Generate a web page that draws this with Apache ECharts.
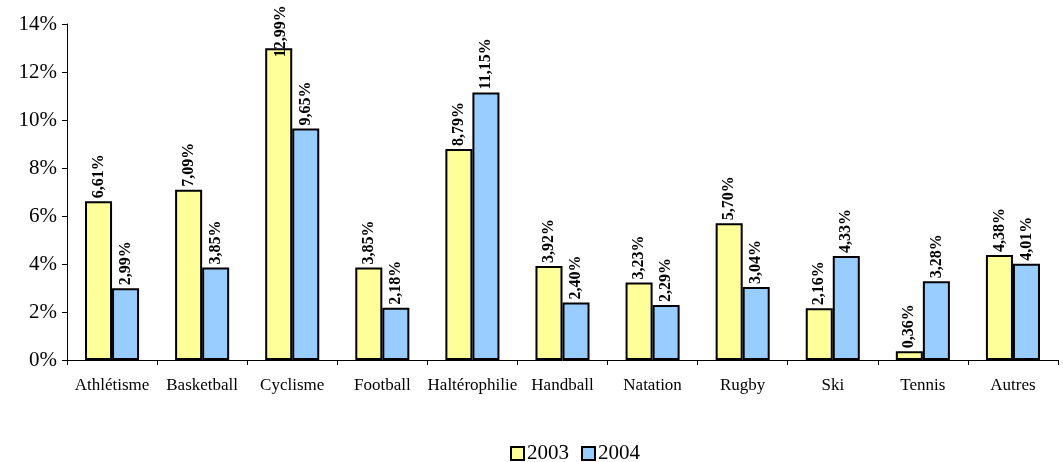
<!DOCTYPE html>
<html><head><meta charset="utf-8">
<script src="https://cdn.jsdelivr.net/npm/echarts@6/dist/echarts.min.js"></script>
<style>html,body{margin:0;padding:0;background:#fff}#c{width:1063px;height:462px}</style>
</head><body><div id="c"></div>
<script>
var categories = ['Athlétisme','Basketball','Cyclisme','Football','Haltérophilie','Handball','Natation','Rugby','Ski','Tennis','Autres'];
var values2003 = [6.61, 7.09, 12.99, 3.85, 8.79, 3.92, 3.23, 5.70, 2.16, 0.36, 4.38];
var values2004 = [2.99, 3.85, 9.65, 2.18, 11.15, 2.40, 2.29, 3.04, 4.33, 3.28, 4.01];
var yTicks = [0, 2, 4, 6, 8, 10, 12, 14];

var FONT = '"Liberation Serif", "DejaVu Serif", serif';
function fmt(v){ return v.toFixed(2).replace('.', ',') + '%'; }
var labelCfg = {
  show: true, position: 'top', rotate: 90, align: 'left', verticalAlign: 'middle',
  distance: 3, fontFamily: FONT, fontWeight: 'bold', fontSize: 16, color: '#000',
  formatter: function(p){ return fmt(p.value); }
};
function mk(arr){
  return arr.map(function(v){
    if (v > 12.5) return { value: v, label: { offset: [-12, 2] } };
    return v;
  });
}
var chart = echarts.init(document.getElementById('c'));
chart.setOption({
  animation: false,
  grid: { left: 67, right: 5, top: 24, bottom: 102 },
  legend: {
    top: 438, left: 505, itemWidth: 13, itemHeight: 13, itemGap: 12,
    textStyle: { fontFamily: FONT, fontSize: 21, color: '#000', padding: [0, 0, 0, -2] },
    data: [
      { name: '2003', icon: 'rect', itemStyle: { borderColor: '#000', borderWidth: 2 } },
      { name: '2004', icon: 'rect', itemStyle: { borderColor: '#000', borderWidth: 2 } }
    ]
  },
  xAxis: {
    type: 'category', data: categories,
    axisLine: { lineStyle: { color: '#000', width: 1 } },
    axisTick: { show: true, alignWithLabel: false, length: 5, lineStyle: { color: '#000' } },
    axisLabel: { margin: 17, fontFamily: FONT, fontSize: 17, color: '#000', interval: 0 }
  },
  yAxis: {
    type: 'value', min: yTicks[0], max: yTicks[yTicks.length - 1], interval: 2,
    axisLine: { show: true, lineStyle: { color: '#000', width: 1 } },
    axisTick: { show: true, length: 5, lineStyle: { color: '#000' } },
    splitLine: { show: false },
    axisLabel: { margin: 10, fontFamily: FONT, fontSize: 21, color: '#000',
      formatter: function(v){ return v + '%'; } }
  },
  series: [
    { name: '2003', type: 'bar', data: mk(values2003), barGap: '0%', barCategoryGap: '40%',
      itemStyle: { color: '#FFFF99', borderColor: '#000', borderWidth: 2 }, label: labelCfg },
    { name: '2004', type: 'bar', data: mk(values2004), barGap: '0%', barCategoryGap: '40%',
      itemStyle: { color: '#99CCFF', borderColor: '#000', borderWidth: 2 }, label: labelCfg }
  ]
});
</script></body></html>
